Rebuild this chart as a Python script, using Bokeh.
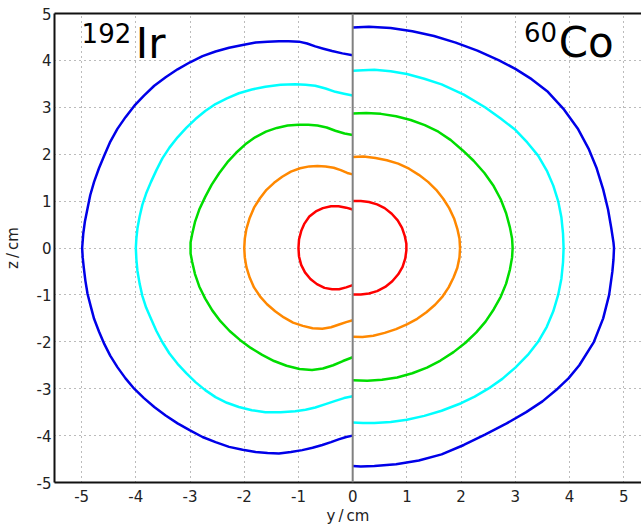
from bokeh.plotting import figure
from bokeh.models import Span, Label, LinearAxis, FixedTicker, Range1d
from bokeh.embed import file_html
from bokeh.resources import INLINE

# ---- data ----
ticks_x = [-5, -4, -3, -2, -1, 0, 1, 2, 3, 4, 5]
ticks_y = [-5, -4, -3, -2, -1, 0, 1, 2, 3, 4, 5]
colors = ["#ff0000", "#ff8800", "#00dd00", "#00ffff", "#0000e8"]

ir_red_x = [0, -0.12, -0.26, -0.40, -0.55, -0.68, -0.80, -0.89, -0.95, -0.99, -1.0, -0.99, -0.95, -0.88, -0.78, -0.66, -0.52, -0.38, -0.25, -0.12, 0]
ir_red_y = [0.82, 0.86, 0.89, 0.89, 0.85, 0.78, 0.67, 0.52, 0.36, 0.18, 0, -0.18, -0.36, -0.52, -0.66, -0.77, -0.85, -0.88, -0.88, -0.84, -0.79]
ir_orange_x = [0, -0.10, -0.22, -0.35, -0.50, -0.65, -0.80, -0.97, -1.14, -1.30, -1.45, -1.59, -1.71, -1.82, -1.90, -1.96, -1.99, -2.0, -1.99, -1.96, -1.90, -1.82, -1.71, -1.58, -1.43, -1.27, -1.10, -0.92, -0.74, -0.56, -0.40, -0.25, -0.12, 0]
ir_orange_y = [1.57, 1.60, 1.66, 1.71, 1.74, 1.75, 1.74, 1.70, 1.63, 1.52, 1.39, 1.24, 1.06, 0.86, 0.64, 0.41, 0.20, 0, -0.20, -0.41, -0.63, -0.84, -1.03, -1.20, -1.35, -1.48, -1.59, -1.66, -1.71, -1.72, -1.69, -1.63, -1.58, -1.54]
ir_green_x = [0, -0.15, -0.32, -0.48, -0.65, -0.82, -1.0, -1.20, -1.40, -1.60, -1.80, -1.98, -2.15, -2.31, -2.46, -2.60, -2.72, -2.83, -2.91, -2.96, -2.99, -2.99, -2.96, -2.91, -2.83, -2.72, -2.59, -2.44, -2.27, -2.08, -1.88, -1.67, -1.45, -1.22, -0.98, -0.75, -0.55, -0.36, -0.18, 0]
ir_green_y = [2.41, 2.44, 2.50, 2.57, 2.61, 2.63, 2.63, 2.61, 2.56, 2.48, 2.36, 2.21, 2.03, 1.83, 1.60, 1.35, 1.09, 0.82, 0.55, 0.30, 0.12, -0.12, -0.30, -0.55, -0.82, -1.08, -1.33, -1.56, -1.77, -1.96, -2.13, -2.28, -2.41, -2.51, -2.58, -2.60, -2.57, -2.50, -2.41, -2.33]
ir_cyan_x = [0, -0.16, -0.32, -0.50, -0.69, -0.87, -1.06, -1.33, -1.61, -1.86, -2.10, -2.32, -2.53, -2.72, -2.90, -3.07, -3.23, -3.38, -3.51, -3.62, -3.72, -3.81, -3.88, -3.93, -3.97, -3.99, -4.0, -3.99, -3.97, -3.93, -3.88, -3.81, -3.72, -3.62, -3.51, -3.38, -3.23, -3.07, -2.90, -2.72, -2.53, -2.32, -2.10, -1.86, -1.61, -1.33, -1.06, -0.87, -0.69, -0.50, -0.32, -0.16, 0]
ir_cyan_y = [3.25, 3.29, 3.33, 3.40, 3.46, 3.48, 3.49, 3.48, 3.44, 3.38, 3.30, 3.19, 3.07, 2.92, 2.75, 2.56, 2.36, 2.14, 1.91, 1.66, 1.41, 1.16, 0.92, 0.67, 0.42, 0.20, 0, -0.24, -0.49, -0.76, -1.02, -1.27, -1.51, -1.77, -2.01, -2.25, -2.47, -2.67, -2.86, -3.03, -3.18, -3.30, -3.39, -3.46, -3.50, -3.50, -3.48, -3.45, -3.40, -3.33, -3.26, -3.20, -3.16]
ir_blue_x = [0, -0.19, -0.38, -0.54, -0.69, -0.84, -0.99, -1.18, -1.36, -1.57, -1.79, -2.03, -2.28, -2.53, -2.77, -3.00, -3.23, -3.45, -3.66, -3.85, -4.03, -4.19, -4.34, -4.47, -4.58, -4.68, -4.77, -4.84, -4.89, -4.94, -4.97, -4.99,
             -4.98, -4.96, -4.93, -4.89, -4.83, -4.77, -4.68, -4.58, -4.47, -4.34, -4.19, -4.03, -3.85, -3.66, -3.45, -3.23, -3.00, -2.77, -2.53, -2.28, -2.03, -1.79, -1.57, -1.36, -1.14, -0.93, -0.74, -0.56, -0.40, -0.26, -0.12, 0]
ir_blue_y = [4.11, 4.15, 4.20, 4.25, 4.30, 4.36, 4.40, 4.41, 4.41, 4.40, 4.38, 4.33, 4.27, 4.19, 4.09, 3.96, 3.81, 3.64, 3.46, 3.25, 3.03, 2.79, 2.54, 2.27, 1.98, 1.70, 1.41, 1.13, 0.85, 0.56, 0.30, 0,
             -0.20, -0.42, -0.70, -0.98, -1.25, -1.51, -1.78, -2.05, -2.30, -2.54, -2.78, -3.0, -3.20, -3.39, -3.57, -3.74, -3.89, -4.03, -4.14, -4.24, -4.30, -4.35, -4.37, -4.38, -4.35, -4.31, -4.26, -4.20, -4.14, -4.08, -4.03, -4.0]

co_red_x = [0, 0.15, 0.30, 0.45, 0.59, 0.72, 0.83, 0.91, 0.96, 0.99, 0.99, 0.97, 0.92, 0.84, 0.73, 0.60, 0.45, 0.30, 0.15, 0]
co_red_y = [1.0, 1.0, 0.98, 0.93, 0.85, 0.73, 0.59, 0.43, 0.26, 0.09, -0.05, -0.22, -0.40, -0.56, -0.71, -0.83, -0.92, -0.97, -0.99, -0.99]
co_orange_x = [0, 0.20, 0.42, 0.63, 0.84, 1.04, 1.22, 1.39, 1.54, 1.67, 1.78, 1.87, 1.93, 1.97, 1.98, 1.97, 1.93, 1.86, 1.77, 1.66, 1.52, 1.36, 1.19, 1.00, 0.80, 0.59, 0.38, 0.18, 0]
co_orange_y = [1.94, 1.95, 1.92, 1.87, 1.80, 1.69, 1.56, 1.41, 1.24, 1.05, 0.85, 0.63, 0.41, 0.20, 0, -0.20, -0.42, -0.63, -0.84, -1.03, -1.21, -1.37, -1.51, -1.63, -1.73, -1.81, -1.87, -1.90, -1.89]
co_green_x = [0, 0.25, 0.52, 0.80, 1.07, 1.33, 1.58, 1.81, 2.03, 2.23, 2.43, 2.60, 2.73, 2.83, 2.90, 2.94, 2.95, 2.94, 2.90, 2.83, 2.73, 2.60, 2.45, 2.28, 2.08, 1.86, 1.62, 1.37, 1.10, 0.82, 0.54, 0.27, 0]
co_green_y = [2.87, 2.88, 2.86, 2.81, 2.73, 2.62, 2.48, 2.30, 2.08, 1.86, 1.60, 1.32, 1.04, 0.74, 0.44, 0.20, 0, -0.20, -0.46, -0.76, -1.04, -1.31, -1.57, -1.80, -2.02, -2.22, -2.40, -2.55, -2.67, -2.76, -2.81, -2.83, -2.82]
co_cyan_x = [0, 0.19, 0.40, 0.70, 1.0, 1.32, 1.64, 2.05, 2.44, 2.73, 3.0, 3.22, 3.42, 3.58, 3.70, 3.79, 3.85, 3.88, 3.89,
             3.88, 3.85, 3.79, 3.70, 3.58, 3.42, 3.23, 3.0, 2.76, 2.50, 2.25, 2.0, 1.64, 1.32, 1.0, 0.70, 0.40, 0.19, 0]
co_cyan_y = [3.78, 3.79, 3.80, 3.77, 3.71, 3.61, 3.49, 3.27, 3.0, 2.76, 2.52, 2.25, 1.97, 1.65, 1.33, 1.0, 0.65, 0.30, 0,
             -0.30, -0.65, -1.0, -1.35, -1.68, -2.0, -2.28, -2.55, -2.79, -3.0, -3.17, -3.31, -3.47, -3.58, -3.66, -3.71, -3.73, -3.73, -3.72]
co_blue_x = [0, 0.30, 0.70, 1.10, 1.50, 1.90, 2.30, 2.70, 3.00, 3.30, 3.60, 3.90, 4.15, 4.35, 4.50, 4.62, 4.71, 4.77, 4.81, 4.82,
             4.81, 4.79, 4.76, 4.73, 4.62, 4.45, 4.18, 3.98, 3.78, 3.50, 3.20, 2.84, 2.44, 2.05, 1.64, 1.22, 0.80, 0.40, 0.15, 0]
co_blue_y = [4.70, 4.72, 4.69, 4.62, 4.52, 4.38, 4.21, 4.00, 3.82, 3.60, 3.33, 2.95, 2.55, 2.12, 1.70, 1.25, 0.82, 0.42, 0.12, 0,
             -0.25, -0.50, -0.75, -1.0, -1.5, -2.0, -2.5, -2.78, -3.0, -3.27, -3.50, -3.74, -3.98, -4.20, -4.40, -4.53, -4.61, -4.65, -4.66, -4.65]

ir_curves = [(ir_red_x, ir_red_y), (ir_orange_x, ir_orange_y), (ir_green_x, ir_green_y),
             (ir_cyan_x, ir_cyan_y), (ir_blue_x, ir_blue_y)]
co_curves = [(co_red_x, co_red_y), (co_orange_x, co_orange_y), (co_green_x, co_green_y),
             (co_cyan_x, co_cyan_y), (co_blue_x, co_blue_y)]

FONT = "DejaVu Sans"

p = figure(width=641, height=527, output_backend="svg", toolbar_location=None,
           x_range=Range1d(-5.5, 5.327), y_range=Range1d(-5, 5),
           min_border_left=52, min_border_right=0, min_border_top=13, min_border_bottom=43)
p.outline_line_color = None
p.background_fill_color = "white"
p.border_fill_color = "white"

for ax, lbl in ((p.xaxis[0], "y\u2009/\u2009cm"), (p.yaxis[0], "z\u2009/\u2009cm")):
    ax.axis_label = lbl
    ax.axis_label_text_font = FONT
    ax.axis_label_text_font_style = "normal"
    ax.axis_label_text_font_size = "15px"
    ax.axis_label_text_color = "#222222"
    ax.major_label_text_font = FONT
    ax.major_label_text_font_size = "15px"
    ax.major_label_text_color = "#222222"
    ax.major_tick_line_color = None
    ax.minor_tick_line_color = None
    ax.major_tick_out = 0
    ax.major_tick_in = 0
    ax.axis_line_width = 2
    ax.axis_line_color = "#111111"

p.xaxis[0].ticker = FixedTicker(ticks=ticks_x)
p.yaxis[0].ticker = FixedTicker(ticks=ticks_y)
p.xaxis[0].major_label_overrides = {t: str(t) for t in ticks_x}
p.yaxis[0].major_label_overrides = {t: str(t) for t in ticks_y}
p.xaxis[0].major_label_standoff = 7
p.xaxis[0].axis_label_standoff = 2
p.yaxis[0].major_label_standoff = 3
p.yaxis[0].axis_label_standoff = 12

top = LinearAxis(ticker=FixedTicker(ticks=[]), major_label_text_font_size="0px",
                 major_tick_line_color=None, minor_tick_line_color=None,
                 major_tick_out=0, major_tick_in=0, axis_line_width=2, axis_line_color="#111111")
p.add_layout(top, "above")

for g in (p.xgrid[0], p.ygrid[0]):
    g.grid_line_color = "#777777"
    g.grid_line_dash = "1 4"
    g.grid_line_width = 1
p.xgrid[0].ticker = FixedTicker(ticks=ticks_x)
p.ygrid[0].ticker = FixedTicker(ticks=ticks_y)

for (xs, ys), c in zip(ir_curves, colors):
    p.line(xs, ys, line_color=c, line_width=2.5, line_join="round")
for (xs, ys), c in zip(co_curves, colors):
    p.line(xs, ys, line_color=c, line_width=2.5, line_join="round")

p.add_layout(Span(location=0, dimension="height", line_color="#808080", line_width=2))

p.add_layout(Label(x=-5.0, y=4.59, text="192", text_font=FONT, text_font_size="26px",
                   text_baseline="alphabetic", text_color="black"))
p.add_layout(Label(x=-4.0, y=4.37, text="Ir", text_font=FONT, text_font_size="42px",
                   text_baseline="alphabetic", text_color="black"))
p.add_layout(Label(x=3.16, y=4.61, text="60", text_font=FONT, text_font_size="26px",
                   text_baseline="alphabetic", text_color="black"))
p.add_layout(Label(x=3.80, y=4.39, text="Co", text_font=FONT, text_font_size="42px",
                   text_baseline="alphabetic", text_color="black"))

open("out.html", "w").write(file_html(p, INLINE))
